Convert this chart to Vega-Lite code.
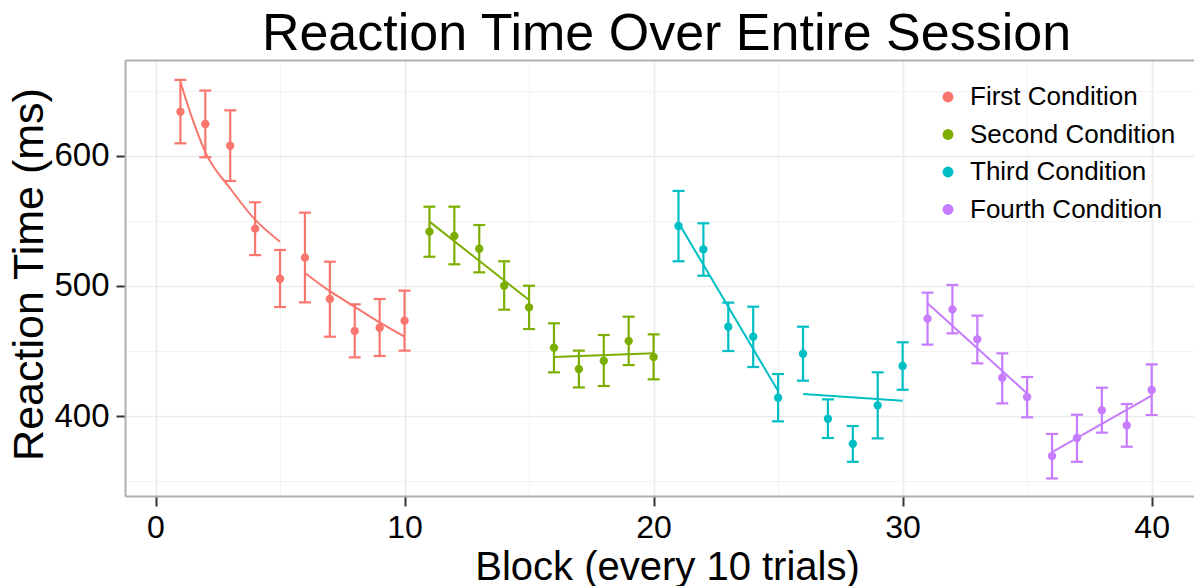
{
  "$schema": "https://vega.github.io/schema/vega-lite/v6.json",
  "width": 1069,
  "height": 436,
  "autosize": {"type": "none"},
  "padding": {"left": 125, "top": 60, "right": 0, "bottom": 90},
  "background": "white",
  "title": {
    "text": "Reaction Time Over Entire Session",
    "fontSize": 52,
    "font": "Liberation Sans",
    "fontWeight": "normal",
    "color": "#000000",
    "anchor": "middle",
    "frame": "group",
    "baseline": "alphabetic",
    "offset": 6,
    "dx": 7,
    "dy": 48
  },
  "datasets": {
    "obs": [
      {"block": 1, "rt": 634.0, "lo": 609.7, "hi": 658.5, "cond": "First Condition"},
      {"block": 2, "rt": 624.6, "lo": 599.0, "hi": 650.3, "cond": "First Condition"},
      {"block": 3, "rt": 607.9, "lo": 580.8, "hi": 635.1, "cond": "First Condition"},
      {"block": 4, "rt": 544.1, "lo": 523.8, "hi": 564.4, "cond": "First Condition"},
      {"block": 5, "rt": 505.6, "lo": 483.8, "hi": 527.7, "cond": "First Condition"},
      {"block": 6, "rt": 521.8, "lo": 487.4, "hi": 556.4, "cond": "First Condition"},
      {"block": 7, "rt": 490.0, "lo": 461.0, "hi": 518.7, "cond": "First Condition"},
      {"block": 8, "rt": 465.4, "lo": 445.1, "hi": 485.9, "cond": "First Condition"},
      {"block": 9, "rt": 467.9, "lo": 446.2, "hi": 490.0, "cond": "First Condition"},
      {"block": 10, "rt": 473.3, "lo": 450.3, "hi": 496.4, "cond": "First Condition"},
      {"block": 11, "rt": 541.8, "lo": 522.5, "hi": 561.0, "cond": "Second Condition"},
      {"block": 12, "rt": 538.5, "lo": 516.7, "hi": 561.0, "cond": "Second Condition"},
      {"block": 13, "rt": 528.7, "lo": 510.5, "hi": 546.9, "cond": "Second Condition"},
      {"block": 14, "rt": 500.2, "lo": 481.8, "hi": 519.0, "cond": "Second Condition"},
      {"block": 15, "rt": 483.6, "lo": 466.9, "hi": 500.2, "cond": "Second Condition"},
      {"block": 16, "rt": 452.6, "lo": 433.6, "hi": 471.3, "cond": "Second Condition"},
      {"block": 17, "rt": 436.2, "lo": 422.0, "hi": 450.3, "cond": "Second Condition"},
      {"block": 18, "rt": 442.5, "lo": 423.1, "hi": 462.3, "cond": "Second Condition"},
      {"block": 19, "rt": 457.7, "lo": 439.2, "hi": 476.4, "cond": "Second Condition"},
      {"block": 20, "rt": 445.4, "lo": 428.2, "hi": 462.8, "cond": "Second Condition"},
      {"block": 21, "rt": 546.2, "lo": 519.0, "hi": 573.1, "cond": "Third Condition"},
      {"block": 22, "rt": 528.2, "lo": 507.9, "hi": 548.2, "cond": "Third Condition"},
      {"block": 23, "rt": 468.7, "lo": 450.0, "hi": 487.2, "cond": "Third Condition"},
      {"block": 24, "rt": 461.0, "lo": 437.7, "hi": 484.1, "cond": "Third Condition"},
      {"block": 25, "rt": 414.1, "lo": 395.9, "hi": 432.3, "cond": "Third Condition"},
      {"block": 26, "rt": 447.9, "lo": 427.2, "hi": 468.7, "cond": "Third Condition"},
      {"block": 27, "rt": 397.9, "lo": 383.1, "hi": 412.8, "cond": "Third Condition"},
      {"block": 28, "rt": 378.7, "lo": 364.8, "hi": 392.3, "cond": "Third Condition"},
      {"block": 29, "rt": 408.2, "lo": 382.8, "hi": 433.6, "cond": "Third Condition"},
      {"block": 30, "rt": 438.5, "lo": 420.2, "hi": 456.7, "cond": "Third Condition"},
      {"block": 31, "rt": 474.9, "lo": 454.9, "hi": 494.9, "cond": "Fourth Condition"},
      {"block": 32, "rt": 482.0, "lo": 463.6, "hi": 500.8, "cond": "Fourth Condition"},
      {"block": 33, "rt": 459.0, "lo": 440.5, "hi": 477.2, "cond": "Fourth Condition"},
      {"block": 34, "rt": 429.5, "lo": 409.7, "hi": 448.2, "cond": "Fourth Condition"},
      {"block": 35, "rt": 414.6, "lo": 399.0, "hi": 430.0, "cond": "Fourth Condition"},
      {"block": 36, "rt": 369.2, "lo": 352.0, "hi": 386.2, "cond": "Fourth Condition"},
      {"block": 37, "rt": 383.1, "lo": 364.8, "hi": 401.0, "cond": "Fourth Condition"},
      {"block": 38, "rt": 404.4, "lo": 387.2, "hi": 421.8, "cond": "Fourth Condition"},
      {"block": 39, "rt": 392.8, "lo": 376.4, "hi": 409.2, "cond": "Fourth Condition"},
      {"block": 40, "rt": 420.0, "lo": 400.8, "hi": 439.8, "cond": "Fourth Condition"}
    ],
    "fits": [
      {"block": 1, "fit": 657.0, "seg": "1a", "cond": "First Condition"},
      {"block": 1.5, "fit": 627.5, "seg": "1a", "cond": "First Condition"},
      {"block": 2, "fit": 603.0, "seg": "1a", "cond": "First Condition"},
      {"block": 3, "fit": 575.0, "seg": "1a", "cond": "First Condition"},
      {"block": 4, "fit": 551.0, "seg": "1a", "cond": "First Condition"},
      {"block": 5, "fit": 534.0, "seg": "1a", "cond": "First Condition"},
      {"block": 6, "fit": 510.0, "seg": "1b", "cond": "First Condition"},
      {"block": 7, "fit": 496.0, "seg": "1b", "cond": "First Condition"},
      {"block": 8, "fit": 484.0, "seg": "1b", "cond": "First Condition"},
      {"block": 9, "fit": 472.0, "seg": "1b", "cond": "First Condition"},
      {"block": 10, "fit": 461.0, "seg": "1b", "cond": "First Condition"},
      {"block": 11, "fit": 549.5, "seg": "2a", "cond": "Second Condition"},
      {"block": 15, "fit": 489.2, "seg": "2a", "cond": "Second Condition"},
      {"block": 16, "fit": 445.4, "seg": "2b", "cond": "Second Condition"},
      {"block": 20, "fit": 448.2, "seg": "2b", "cond": "Second Condition"},
      {"block": 21, "fit": 548.7, "seg": "3a", "cond": "Third Condition"},
      {"block": 25, "fit": 419.2, "seg": "3a", "cond": "Third Condition"},
      {"block": 26, "fit": 416.9, "seg": "3b", "cond": "Third Condition"},
      {"block": 30, "fit": 411.8, "seg": "3b", "cond": "Third Condition"},
      {"block": 31, "fit": 486.7, "seg": "4a", "cond": "Fourth Condition"},
      {"block": 35, "fit": 417.4, "seg": "4a", "cond": "Fourth Condition"},
      {"block": 36, "fit": 372.3, "seg": "4b", "cond": "Fourth Condition"},
      {"block": 40, "fit": 415.6, "seg": "4b", "cond": "Fourth Condition"}
    ]
  },
  "layer": [
    {
      "data": {"name": "obs"},
      "mark": {"type": "rule", "strokeWidth": 2.2},
      "encoding": {
        "x": {
          "field": "block", "type": "quantitative",
          "scale": {"domain": [-1.225, 41.7], "nice": false, "zero": false},
          "axis": {
            "orient": "bottom",
            "values": [0, 5, 10, 15, 20, 25, 30, 35, 40],
            "title": "Block (every 10 trials)",
            "titleFont": "Liberation Sans",
            "titleFontSize": 40,
            "titleFontWeight": "normal",
            "titleColor": "#000000",
            "titleBaseline": "alphabetic",
            "titleAlign": "center",
            "titleX": 542,
            "titleY": 83,
            "labelExpr": "datum.value % 10 === 0 ? datum.label : ''",
            "labelFont": "Liberation Sans",
            "labelFontSize": 32,
            "labelColor": "#000000",
            "labelPadding": 6,
            "labelFlush": false,
            "labelOverlap": false,
            "tickSize": 10,
            "tickWidth": 2,
            "tickColor": "#333333",
            "tickOpacity": {"condition": {"test": "datum.value % 10 === 0", "value": 1}, "value": 0},
            "grid": true,
            "gridColor": {"condition": {"test": "datum.value % 10 === 0", "value": "#EBEBEB"}, "value": "#F3F3F3"},
            "gridWidth": {"condition": {"test": "datum.value % 10 === 0", "value": 1.6}, "value": 1},
            "domain": true,
            "domainColor": "#AFAFAF",
            "domainWidth": 2
          }
        },
        "y": {
          "field": "lo", "type": "quantitative", "title": "Reaction Time (ms)",
          "scale": {"domain": [338.5, 673.8], "nice": false, "zero": false},
          "axis": {
            "values": [350, 400, 450, 500, 550, 600, 650],
            "titleFont": "Liberation Sans",
            "titleFontSize": 43,
            "titleFontWeight": "normal",
            "titleColor": "#000000",
            "titleBaseline": "alphabetic",
            "titleAlign": "center",
            "titleAngle": -90,
            "titleX": -83,
            "titleY": 214,
            "labelExpr": "datum.value % 100 === 0 ? datum.label : ''",
            "labelFont": "Liberation Sans",
            "labelFontSize": 33,
            "labelColor": "#000000",
            "labelPadding": 7,
            "labelFlush": false,
            "labelOverlap": false,
            "tickSize": 9,
            "tickWidth": 2,
            "tickColor": "#333333",
            "tickOpacity": {"condition": {"test": "datum.value % 100 === 0", "value": 1}, "value": 0},
            "grid": true,
            "gridColor": {"condition": {"test": "datum.value % 100 === 0", "value": "#EBEBEB"}, "value": "#F3F3F3"},
            "gridWidth": {"condition": {"test": "datum.value % 100 === 0", "value": 1.6}, "value": 1},
            "domain": true,
            "domainColor": "#AFAFAF",
            "domainWidth": 2
          }
        },
        "y2": {"field": "hi"},
        "color": {
          "field": "cond", "type": "nominal", "title": null,
          "scale": {
            "domain": ["First Condition", "Second Condition", "Third Condition", "Fourth Condition"],
            "range": ["#F8766D", "#7CAE00", "#00BFC4", "#C77CFF"]
          },
          "legend": {
            "orient": "none",
            "legendX": 810,
            "legendY": 24,
            "symbolType": "circle",
            "symbolSize": 120,
            "symbolStrokeWidth": 0,
            "labelFont": "Liberation Sans",
            "labelFontSize": 26,
            "labelColor": "#000000",
            "labelOffset": 9,
            "labelLimit": 400,
            "rowPadding": 11.5,
            "padding": 0
          }
        }
      }
    },
    {
      "data": {"name": "obs"},
      "mark": {"type": "tick", "orient": "horizontal", "size": 12, "thickness": 2.2, "opacity": 1},
      "encoding": {
        "x": {"field": "block", "type": "quantitative", "axis": null},
        "y": {"field": "hi", "type": "quantitative", "title": "Reaction Time (ms)"},
        "color": {"field": "cond", "type": "nominal", "title": null}
      }
    },
    {
      "data": {"name": "obs"},
      "mark": {"type": "tick", "orient": "horizontal", "size": 12, "thickness": 2.2, "opacity": 1},
      "encoding": {
        "x": {"field": "block", "type": "quantitative", "axis": null},
        "y": {"field": "lo", "type": "quantitative", "title": "Reaction Time (ms)"},
        "color": {"field": "cond", "type": "nominal", "title": null}
      }
    },
    {
      "data": {"name": "obs"},
      "mark": {"type": "point", "filled": true, "size": 70, "opacity": 1},
      "encoding": {
        "x": {"field": "block", "type": "quantitative", "axis": null},
        "y": {"field": "rt", "type": "quantitative", "title": "Reaction Time (ms)"},
        "color": {"field": "cond", "type": "nominal", "title": null}
      }
    },
    {
      "data": {"name": "fits"},
      "mark": {"type": "line", "strokeWidth": 2, "interpolate": "monotone"},
      "encoding": {
        "x": {
          "field": "block", "type": "quantitative",
          "axis": {"orient": "top", "domain": true, "domainColor": "#AFAFAF", "domainWidth": 2, "ticks": false, "labels": false, "grid": false, "title": null}
        },
        "y": {"field": "fit", "type": "quantitative", "title": "Reaction Time (ms)"},
        "color": {"field": "cond", "type": "nominal", "title": null},
        "detail": {"field": "seg", "type": "nominal"}
      }
    }
  ],
  "resolve": {"axis": {"x": "independent"}},
  "config": {"view": {"stroke": null}, "font": "Liberation Sans"}
}
